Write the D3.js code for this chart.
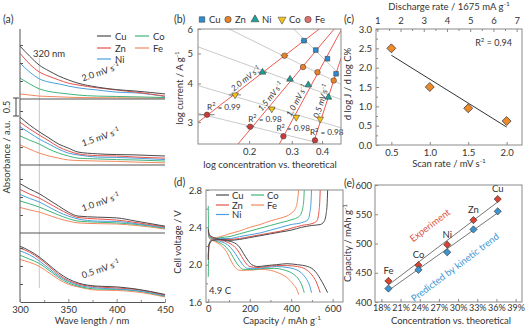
<!DOCTYPE html>
<html><head><meta charset="utf-8">
<script src="https://cdn.jsdelivr.net/npm/d3@7"></script>
<style>
body{margin:0;background:#fff;}
svg{display:block;font-family:Lato,'Open Sans',sans-serif;}
</style></head><body>
<svg id="c" width="530" height="329"></svg>
<script>
// ================= DATA =================
const metals = ["Cu","Zn","Ni","Co","Fe"];
const metalLineColors = ["#4a4a4a","#e5534b","#4aa0dc","#3fb57a","#f4895f"];

// (a) UV-vis absorbance (a.u.), rows = Cu, Zn, Ni, Co, Fe
const wavelengths = [300,310,320,330,340,350,360,380,400,420,450];
const absRateLabels = ["2.0","1.5","1.0","0.5"];
const abs20 = [
  [1.47,1.19,0.94,0.78,0.64,0.53,0.44,0.33,0.26,0.22,0.14],
  [1.27,0.97,0.75,0.63,0.53,0.44,0.39,0.31,0.25,0.19,0.08],
  [1.00,0.75,0.56,0.47,0.42,0.36,0.31,0.25,0.19,0.17,0.07],
  [0.58,0.42,0.28,0.21,0.17,0.14,0.11,0.08,0.07,0.06,0.04],
  [0.14,0.11,0.08,0.07,0.06,0.05,0.04,0.036,0.033,0.03,0.028]];
const abs15 = [
  [1.33,1.11,0.92,0.75,0.58,0.47,0.36,0.31,0.29,0.28,0.25],
  [1.19,1.00,0.83,0.67,0.50,0.39,0.31,0.26,0.25,0.22,0.19],
  [1.06,0.89,0.72,0.58,0.44,0.33,0.28,0.22,0.21,0.19,0.15],
  [0.81,0.69,0.58,0.44,0.33,0.25,0.19,0.17,0.15,0.14,0.11],
  [0.56,0.44,0.33,0.25,0.19,0.14,0.125,0.11,0.10,0.08,0.06]];
const abs10 = [
  [1.37,1.22,1.09,0.92,0.75,0.58,0.47,0.44,0.42,0.33,0.19],
  [1.21,1.08,0.97,0.82,0.67,0.53,0.43,0.39,0.36,0.29,0.17],
  [1.07,0.96,0.86,0.72,0.58,0.47,0.39,0.33,0.32,0.26,0.15],
  [0.89,0.81,0.72,0.61,0.50,0.40,0.33,0.30,0.28,0.24,0.13],
  [0.71,0.64,0.58,0.49,0.40,0.33,0.28,0.26,0.25,0.21,0.11]];
const abs05 = [
  [1.55,1.42,1.25,1.03,0.81,0.64,0.53,0.44,0.42,0.36,0.21],
  [1.50,1.38,1.21,0.99,0.76,0.60,0.50,0.42,0.39,0.35,0.19],
  [1.42,1.31,1.14,0.93,0.72,0.57,0.47,0.39,0.36,0.32,0.17],
  [1.30,1.19,1.07,0.88,0.68,0.53,0.44,0.36,0.35,0.31,0.16],
  [1.18,1.10,0.99,0.81,0.63,0.49,0.42,0.33,0.32,0.28,0.14]];

// (b) log current vs log concentration, order Cu, Zn, Ni, Co, Fe
const bRates = ["2.0","1.5","1.0","0.5"];
const bConc20 = [0.337,0.280,0.227,0.175,0.134];
const bCurr20 = [5.50,4.92,4.35,3.675,3.17];
const bConc15 = [0.377,0.334,0.295,0.248,0.202];
const bCurr15 = [5.13,4.52,4.13,3.31,2.90];
const bConc10 = [0.421,0.383,0.351,0.313,0.277];
const bCurr10 = [4.81,4.35,3.96,3.11,2.70];
const bConc05 = [0.457,0.447,0.425,0.393,0.374];
const bCurr05 = [4.30,4.09,3.61,3.07,2.62];
const bConcErr = [0.010,0.008,0.006,0.005];
const bR2 = ["0.99","0.98","0.98","0.98"];
const bMarkerColors = ["#2b8cd0","#e8822a","#1f9e96","#f2c318","#cc3b3b"];
const bLegendFe = "#e07070";
const bXTicks = [0.2,0.3,0.4];
const bYTicks = [3,4,5,6];

// (c)
const cScanRates = [0.5,1.0,1.5,2.0];
const cSlopes = [2.5,1.5,0.95,0.62];
const cR2 = "0.94";
const cXTicks = [0.5,1.0,1.5,2.0];
const cYTicks = [0,0.5,1.0,1.5,2.0,2.5,3.0];
const cTopTicks = [1,2,3,4,5,6,7];

// (d) galvanostatic charge / discharge, [capacity, voltage]
const chargeCu = [[0,2.05],[3,2.21],[20,2.26],[60,2.27],[100,2.26],[150,2.27],[200,2.29],[250,2.31],[300,2.33],[350,2.35],[400,2.37],[450,2.40],[500,2.42],[540,2.43],[558,2.46],[569,2.55],[574,2.68],[576,2.8]];
const chargeZn = [[0,2.06],[3,2.21],[20,2.26],[60,2.27],[100,2.27],[150,2.28],[200,2.30],[250,2.32],[300,2.34],[350,2.36],[400,2.39],[450,2.42],[500,2.44],[524,2.47],[534,2.57],[538,2.68],[540,2.8]];
const chargeNi = [[0,2.08],[3,2.22],[20,2.27],[60,2.28],[100,2.28],[150,2.30],[200,2.32],[250,2.34],[300,2.37],[350,2.40],[400,2.43],[450,2.45],[480,2.48],[491,2.57],[496,2.68],[498,2.8]];
const chargeCo = [[0,1.87],[3,2.2],[20,2.27],[60,2.29],[100,2.30],[150,2.33],[200,2.36],[250,2.39],[300,2.42],[350,2.45],[400,2.48],[440,2.52],[455,2.6],[461,2.7],[463,2.8]];
const chargeFe = [[0,2.10],[3,2.22],[20,2.28],[60,2.30],[100,2.33],[150,2.36],[200,2.40],[250,2.43],[300,2.47],[350,2.50],[400,2.55],[420,2.6],[430,2.68],[436,2.8]];
const dischCu = [[0,2.38],[5,2.32],[40,2.28],[80,2.26],[120,2.24],[150,2.19],[170,2.12],[190,2.05],[210,2.0],[240,1.98],[280,1.99],[330,2.0],[380,2.01],[430,2.0],[480,1.98],[515,1.93],[540,1.85],[560,1.77],[576,1.7]];
const dischZn = [[0,2.37],[5,2.31],[40,2.27],[80,2.25],[110,2.22],[140,2.16],[160,2.09],[180,2.02],[200,1.98],[240,1.97],[280,1.98],[330,1.99],[380,1.99],[430,1.98],[470,1.95],[500,1.89],[520,1.82],[540,1.7]];
const dischNi = [[0,2.36],[5,2.3],[40,2.26],[70,2.24],[100,2.2],[130,2.12],[150,2.05],[170,1.99],[190,1.96],[230,1.96],[280,1.97],[330,1.98],[380,1.97],[420,1.95],[450,1.91],[475,1.84],[490,1.77],[498,1.7]];
const dischCo = [[0,2.63],[2,2.3],[20,2.27],[50,2.24],[80,2.2],[110,2.12],[130,2.04],[150,1.98],[170,1.95],[220,1.95],[270,1.96],[320,1.96],[370,1.94],[410,1.9],[440,1.83],[455,1.76],[463,1.7]];
const dischFe = [[0,2.35],[5,2.28],[30,2.25],[60,2.21],[90,2.13],[110,2.04],[130,1.97],[150,1.94],[200,1.94],[250,1.95],[300,1.94],[340,1.91],[380,1.86],[410,1.79],[430,1.72],[436,1.68]];
const dXTicks = [0,200,400,600];
const dYTicks = [1.6,2.0,2.4,2.8];

// (e) capacity vs concentration, order Fe, Co, Ni, Zn, Cu
const eMetals = ["Fe","Co","Ni","Zn","Cu"];
const eConc = [0.191,0.238,0.283,0.324,0.362];
const eExperiment = [436,463,498,540,576];
const ePredicted = [423,455,485,524,555];
const eXTicks = [0.18,0.21,0.24,0.27,0.30,0.33,0.36,0.39];
const eYTicks = [400,450,500,550,600];

// ================= HELPERS =================
const svg = d3.select("#c");
const TXT = "#333";
const FRAME = "#8a8a8a";
const FS = 9.5;
function T(g, x, y, str, o = {}) {
  const fs = o.size || FS;
  const t = g.append("text").attr("x", x).attr("y", y).attr("font-size", fs)
    .attr("fill", o.fill || TXT).attr("text-anchor", o.anchor || "start");
  if (o.rotate) t.attr("transform", `rotate(${o.rotate},${x},${y})`);
  if (o.italic) t.attr("font-style", "italic");
  if (o.dy !== undefined) t.attr("dy", o.dy);
  const parts = str.split(/(\^\{[^}]*\})/);
  let up = false;
  parts.forEach(p => {
    if (!p) return;
    if (p.startsWith("^{")) {
      t.append("tspan").attr("font-size", fs * 0.68).attr("dy", -fs * 0.42).text(p.slice(2, -1));
      up = true;
    } else {
      const s = t.append("tspan").text(p);
      if (up) { s.attr("dy", fs * 0.42); up = false; }
    }
  });
  return t;
}
function frame(x0, y0, x1, y1) {
  svg.append("rect").attr("x", x0).attr("y", y0).attr("width", x1 - x0).attr("height", y1 - y0)
    .attr("fill", "none").attr("stroke", FRAME).attr("stroke-width", 1);
}
function styleAxis(g, keepDomain) {
  if (!keepDomain) g.select(".domain").remove();
  g.attr("font-family", "Lato,'Open Sans',sans-serif").attr("font-size", FS);
  g.selectAll("line").attr("stroke", FRAME);
  g.selectAll("text").attr("fill", TXT);
  return g;
}
function linfit(xs, ys) {
  const mx = d3.mean(xs), my = d3.mean(ys);
  let sxy = 0, sxx = 0;
  xs.forEach((x, i) => { sxy += (x - mx) * (ys[i] - my); sxx += (x - mx) * (x - mx); });
  const m = sxy / sxx;
  return { m, b: my - m * mx };
}
function clip(id, x0, y0, x1, y1) {
  svg.append("clipPath").attr("id", id).append("rect")
    .attr("x", x0).attr("y", y0).attr("width", x1 - x0).attr("height", y1 - y0);
  return "url(#" + id + ")";
}
const diamond = d3.symbol().type(d3.symbolSquare);

// ================= PANEL (a) =================
(function () {
  const L = 20, R = 165, bands = [[29, 99], [99, 165], [165, 233], [233, 302]];
  const pxPerAU = 36;
  const x = d3.scaleLinear().domain([300, 450]).range([L, R]);
  const sets = [abs20, abs15, abs10, abs05];
  const g = svg.append("g");
  g.append("line").attr("x1", x(320)).attr("x2", x(320)).attr("y1", 58).attr("y2", 288)
    .attr("stroke", "#c8c8c8").attr("stroke-width", 1);
  bands.forEach((bd, i) => {
    const y = d3.scaleLinear().domain([0, (bd[1] - bd[0]) / pxPerAU]).range([bd[1], bd[0]]);
    const line = d3.line().x((d, k) => x(wavelengths[k])).y(d => y(d)).curve(d3.curveMonotoneX);
    sets[i].slice().reverse().forEach((row, jr) => {
      const j = sets[i].length - 1 - jr;
      g.append("path").attr("d", line(row)).attr("fill", "none")
        .attr("stroke", metalLineColors[j]).attr("stroke-width", 1);
    });
    const ax = g.append("g").attr("transform", `translate(${L},0)`)
      .call(d3.axisLeft(y).tickValues([0.5, 1.0, 1.5]).tickFormat("").tickSize(-3).tickSizeOuter(0));
    styleAxis(ax).selectAll("line").attr("stroke", "#555");
    if (i < 3) g.append("line").attr("x1", L).attr("x2", R).attr("y1", bd[1]).attr("y2", bd[1])
      .attr("stroke", "#555").attr("stroke-width", 1);
  });
  g.append("line").attr("x1", L).attr("x2", L).attr("y1", 29).attr("y2", 302).attr("stroke", "#555");
  const bx = g.append("g").attr("transform", "translate(0,302)")
    .call(d3.axisBottom(x).tickValues([300, 350, 400, 450]).tickSize(-3).tickPadding(4).tickSizeOuter(0));
  styleAxis(bx, true);
  bx.select(".domain").attr("stroke", "#555");
  const bxm = g.append("g").attr("transform", "translate(0,302)")
    .call(d3.axisBottom(x).tickValues([325, 375, 425]).tickFormat("").tickSize(-2));
  styleAxis(bxm);
  const rateY = [81.5, 146.5, 211.5, 278.5];
  absRateLabels.forEach((r, i) => T(g, 83, rateY[i], r + " mV s^{-1}", { size: 9, rotate: -19 }));
  T(g, 33, 57, "320 nm", { size: 9.5 });
  const leg = [[97, 36], [97, 48], [97, 59], [135, 36], [135, 48]];
  [0, 1, 2, 3, 4].forEach(j => {
    const p = leg[j];
    g.append("line").attr("x1", p[0]).attr("x2", p[0] + 14).attr("y1", p[1]).attr("y2", p[1])
      .attr("stroke", metalLineColors[j]).attr("stroke-width", 1.2);
    T(g, p[0] + 18, p[1] + 3.5, metals[j], { size: 9.5 });
  });
  g.append("path").attr("d", "M13,98H19M16,98V116M13,116H19").attr("stroke", "#444").attr("fill", "none");
  T(g, 10, 107, "0.5", { size: 9, rotate: -90, anchor: "middle" });
  T(g, 10, 157, "Absorbance / a.u.", { size: 9.5, rotate: -90, anchor: "middle" });
  T(g, 92, 324, "Wave length / nm", { size: 9.5, anchor: "middle" });
  T(g, 3, 23, "(a)", { size: 10.5 });
})();

// ================= PANEL (b) =================
(function () {
  const L = 198, R = 341, Tp = 29, B = 144;
  const x = d3.scaleLog().domain([0.123, 0.479]).range([L, R]);
  const y = d3.scaleLog().domain([2.55, 6]).range([B, Tp]);
  const g = svg.append("g");
  const cp = clip("clipB", L, Tp, R, B);
  const concs = [bConc20, bConc15, bConc10, bConc05];
  const currs = [bCurr20, bCurr15, bCurr10, bCurr05];
  const lx0 = Math.log10(x.domain()[0]), lx1 = Math.log10(x.domain()[1]);
  const lines = g.append("g").attr("clip-path", cp);
  metals.forEach((m, j) => {
    const f = linfit(concs.map(c => Math.log10(c[j])), currs.map(c => Math.log10(c[j])));
    lines.append("line").attr("x1", x(10 ** lx0)).attr("y1", y(10 ** (f.m * lx0 + f.b)))
      .attr("x2", x(10 ** lx1)).attr("y2", y(10 ** (f.m * lx1 + f.b)))
      .attr("stroke", "#c4c4c4").attr("stroke-width", 0.9);
  });
  const fits = bRates.map((r, i) => {
    const f = linfit(concs[i].map(Math.log10), currs[i].map(Math.log10));
    lines.append("line").attr("x1", x(10 ** lx0)).attr("y1", y(10 ** (f.m * lx0 + f.b)))
      .attr("x2", x(10 ** lx1)).attr("y2", y(10 ** (f.m * lx1 + f.b)))
      .attr("stroke", "#ec5a50").attr("stroke-width", 1);
    return f;
  });
  frame(L, Tp, R, B);
  const labPY = [83, 100, 103, 103];
  fits.forEach((f, i) => {
    const ly = Math.log10(y.invert(labPY[i]));
    const lx = (ly - f.b) / f.m;
    const px = x(10 ** lx), py = labPY[i];
    const px2 = x(10 ** (lx + 0.05)), py2 = y(10 ** (ly + 0.05 * f.m));
    const ang = Math.atan2(py2 - py, px2 - px) * 180 / Math.PI;
    T(g, px, py, bRates[i] + " mV s^{-1}", { size: 8.3, italic: true, anchor: "middle", rotate: ang, dy: -2.5 });
  });
  const r2dx = [0, -2, -7, -5];
  bRates.forEach((r, i) => {
    const fx = x(concs[i][4]), fy = y(currs[i][4]);
    T(g, fx + r2dx[i], fy - 5, "R^{2} = " + bR2[i], { size: 8.2 });
  });
  const symTypes = [d3.symbolSquare, d3.symbolCircle, d3.symbolTriangle, d3.symbolTriangle, d3.symbolCircle];
  const symSizes = [22, 24, 20, 20, 24];
  bRates.forEach((r, i) => {
    metals.forEach((m, j) => {
      const cx = x(concs[i][j]), cy = y(currs[i][j]);
      g.append("line").attr("x1", x(concs[i][j] - bConcErr[i])).attr("x2", x(concs[i][j] + bConcErr[i]))
        .attr("y1", cy).attr("y2", cy).attr("stroke", "#555").attr("stroke-width", 0.8);
      g.append("path").attr("d", d3.symbol().type(symTypes[j]).size(symSizes[j])())
        .attr("transform", `translate(${cx},${cy})` + (j === 3 ? " rotate(180)" : ""))
        .attr("fill", bMarkerColors[j]).attr("stroke", "#333").attr("stroke-width", 0.5);
    });
  });
  const ay = g.append("g").attr("transform", `translate(${L},0)`)
    .call(d3.axisLeft(y).tickValues(bYTicks).tickFormat(d3.format("d")).tickSize(-3).tickPadding(5));
  styleAxis(ay);
  const ax = g.append("g").attr("transform", `translate(0,${B})`)
    .call(d3.axisBottom(x).tickValues(bXTicks).tickFormat(d3.format(".1f")).tickSize(-3).tickPadding(4));
  styleAxis(ax);
  T(g, 183, 88, "log current / A g^{-1}", { rotate: -90, anchor: "middle" });
  T(g, 270, 168, "log concentration vs. theoretical", { anchor: "middle" });
  T(g, 174, 23, "(b)", { size: 10.5 });
  const legX = [202, 228, 255, 282, 308];
  metals.forEach((m, j) => {
    g.append("path").attr("d", d3.symbol().type(symTypes[j]).size(symSizes[j] + 8)())
      .attr("transform", `translate(${legX[j]},19.5)` + (j === 3 ? " rotate(180)" : ""))
      .attr("fill", j === 4 ? bLegendFe : bMarkerColors[j]).attr("stroke", "#333").attr("stroke-width", 0.5);
    T(g, legX[j] + 7, 23, m);
  });
})();

// ================= PANEL (c) =================
(function () {
  const L = 376, R = 522, Tp = 29, B = 145;
  const x = d3.scaleLinear().domain([0.3, 2.2]).range([L, R]);
  const xt = d3.scaleLinear().domain([0.944, 7.23]).range([L, R]);
  const y = d3.scaleLinear().domain([0, 3]).range([B, Tp]);
  const g = svg.append("g");
  frame(L, Tp, R, B);
  const f = linfit(cScanRates, cSlopes);
  const x0 = d3.min(cScanRates), x1 = d3.max(cScanRates);
  g.append("line").attr("x1", x(x0)).attr("y1", y(f.m * x0 + f.b)).attr("x2", x(x1)).attr("y2", y(f.m * x1 + f.b))
    .attr("stroke", "#333").attr("stroke-width", 1);
  cScanRates.forEach((s, i) => {
    g.append("path").attr("d", diamond.size(40)())
      .attr("transform", `translate(${x(s)},${y(cSlopes[i])}) rotate(45)`)
      .attr("fill", "#ec8a2c").attr("stroke", "#333").attr("stroke-width", 0.7);
  });
  const ay = g.append("g").attr("transform", `translate(${L},0)`)
    .call(d3.axisLeft(y).tickValues(cYTicks).tickFormat(d3.format(".1f")).tickSize(-3).tickPadding(4));
  styleAxis(ay);
  const aym = g.append("g").attr("transform", `translate(${L},0)`)
    .call(d3.axisLeft(y).tickValues([0.25, 0.75, 1.25, 1.75, 2.25, 2.75]).tickFormat("").tickSize(-2));
  styleAxis(aym);
  const ax = g.append("g").attr("transform", `translate(0,${B})`)
    .call(d3.axisBottom(x).tickValues(cXTicks).tickFormat(d3.format(".1f")).tickSize(-3).tickPadding(4));
  styleAxis(ax);
  const at = g.append("g").attr("transform", `translate(0,${Tp})`)
    .call(d3.axisTop(xt).tickValues(cTopTicks).tickFormat(d3.format("d")).tickSize(-3).tickPadding(5));
  styleAxis(at);
  const atm = g.append("g").attr("transform", `translate(0,${Tp})`)
    .call(d3.axisTop(xt).tickValues([1.5, 2.5, 3.5, 4.5, 5.5, 6.5]).tickFormat("").tickSize(-2));
  styleAxis(atm);
  T(g, 512, 46, "R^{2} = " + cR2, { size: 9, anchor: "end" });
  T(g, 449, 10, "Discharge rate / 1675 mA g^{-1}", { anchor: "middle" });
  T(g, 449, 167, "Scan rate / mV s^{-1}", { anchor: "middle" });
  T(g, 351, 84, "d log J / d log C%", { rotate: -90, anchor: "middle" });
  T(g, 344, 23, "(c)", { size: 10.5 });
})();

// ================= PANEL (d) =================
(function () {
  const L = 206, R = 343, Tp = 190, B = 302;
  const x = d3.scaleLinear().domain([-11, 650]).range([L, R]);
  const y = d3.scaleLinear().domain([1.6, 2.8]).range([B, Tp]);
  const g = svg.append("g");
  const cp = clip("clipD", L, Tp, R, B);
  const line = d3.line().x(d => x(d[0])).y(d => y(d[1])).curve(d3.curveMonotoneX);
  const charges = [chargeCu, chargeZn, chargeNi, chargeCo, chargeFe];
  const dis = [dischCu, dischZn, dischNi, dischCo, dischFe];
  const lg = g.append("g").attr("clip-path", cp);
  [4, 3, 2, 1, 0].forEach(j => {
    lg.append("path").attr("d", line(charges[j])).attr("fill", "none").attr("stroke", metalLineColors[j]).attr("stroke-width", 1);
    lg.append("path").attr("d", line(dis[j])).attr("fill", "none").attr("stroke", metalLineColors[j]).attr("stroke-width", 1);
  });
  frame(L, Tp, R, B);
  const ay = g.append("g").attr("transform", `translate(${L},0)`)
    .call(d3.axisLeft(y).tickValues(dYTicks).tickFormat(d3.format(".1f")).tickSize(-3).tickPadding(4));
  styleAxis(ay);
  const aym = g.append("g").attr("transform", `translate(${L},0)`)
    .call(d3.axisLeft(y).tickValues([1.8, 2.2, 2.6]).tickFormat("").tickSize(-2));
  styleAxis(aym);
  const ax = g.append("g").attr("transform", `translate(0,${B})`)
    .call(d3.axisBottom(x).tickValues(dXTicks).tickFormat(d3.format("d")).tickSize(-3).tickPadding(3));
  styleAxis(ax);
  const axm = g.append("g").attr("transform", `translate(0,${B})`)
    .call(d3.axisBottom(x).tickValues([100, 300, 500]).tickFormat("").tickSize(-2));
  styleAxis(axm);
  const leg = [[216, 195], [216, 205], [216, 214.5], [251, 195], [251, 205]];
  [0, 1, 2, 3, 4].forEach(j => {
    const p = leg[j];
    g.append("line").attr("x1", p[0]).attr("x2", p[0] + 13).attr("y1", p[1]).attr("y2", p[1])
      .attr("stroke", metalLineColors[j]).attr("stroke-width", 1.2);
    T(g, p[0] + 16, p[1] + 3.5, metals[j]);
  });
  T(g, 209, 294, "4.9 C");
  T(g, 181, 242, "Cell voltage / V", { rotate: -90, anchor: "middle" });
  T(g, 282, 324, "Capacity / mAh g^{-1}", { anchor: "middle" });
  T(g, 174, 186, "(d)", { size: 10.5 });
})();

// ================= PANEL (e) =================
(function () {
  const L = 375, R = 522, Tp = 185, B = 302;
  const x = d3.scaleLinear().domain([0.17, 0.40]).range([L, R]);
  const y = d3.scaleLinear().domain([400, 600]).range([B, Tp]);
  const g = svg.append("g");
  frame(L, Tp, R, B);
  const series = [[eExperiment, "#d9432f"], [ePredicted, "#3b95d1"]];
  series.forEach(([vals]) => {
    const f = linfit(eConc, vals);
    const x0 = d3.min(eConc), x1 = d3.max(eConc);
    g.append("line").attr("x1", x(x0)).attr("y1", y(f.m * x0 + f.b)).attr("x2", x(x1)).attr("y2", y(f.m * x1 + f.b))
      .attr("stroke", "#666").attr("stroke-width", 0.9);
  });
  series.forEach(([vals, col]) => {
    vals.forEach((v, i) => {
      g.append("path").attr("d", diamond.size(26)())
        .attr("transform", `translate(${x(eConc[i])},${y(v)}) rotate(45)`)
        .attr("fill", col).attr("stroke", "#333").attr("stroke-width", 0.6);
    });
  });
  eMetals.forEach((m, i) => T(g, x(eConc[i]), y(eExperiment[i]) - 7, m, { anchor: "middle" }));
  T(g, 432, 228, "Experiment", { size: 9.5, fill: "#e0503c", rotate: -37, anchor: "middle" });
  T(g, 457, 270, "Predicted by kinetic trend", { size: 9.5, fill: "#3b95d1", rotate: -37, anchor: "middle" });
  const ay = g.append("g").attr("transform", `translate(${L},0)`)
    .call(d3.axisLeft(y).tickValues(eYTicks).tickFormat(d3.format("d")).tickSize(-3).tickPadding(3));
  styleAxis(ay);
  const ax = g.append("g").attr("transform", `translate(0,${B})`)
    .call(d3.axisBottom(x).tickValues(eXTicks).tickFormat(d3.format(".0%")).tickSize(-3).tickPadding(3));
  styleAxis(ax);
  ax.selectAll("text").attr("font-size", 9);
  T(g, 351, 243, "Capacity / mAh g^{-1}", { rotate: -90, anchor: "middle" });
  T(g, 451, 324, "Concentration vs. theoretical", { anchor: "middle" });
  T(g, 344, 187, "(e)", { size: 10.5 });
})();
</script>
</body></html>
